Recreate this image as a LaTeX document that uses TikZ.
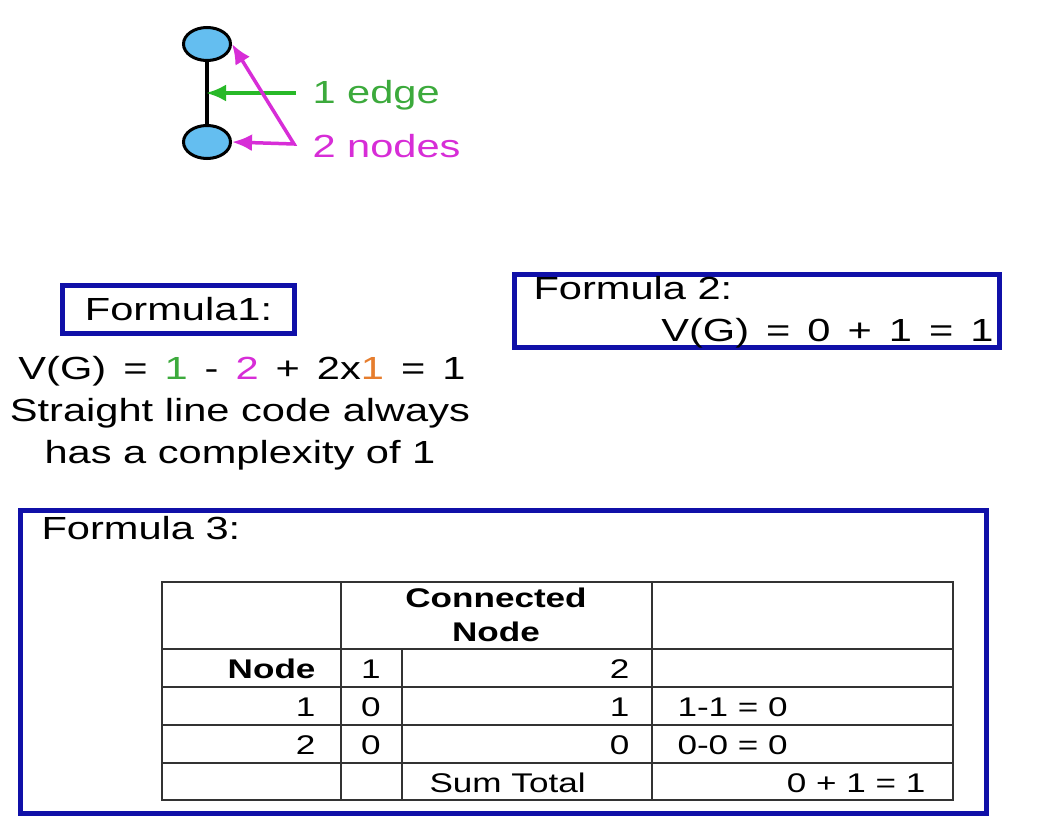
\documentclass[tikz,border=0pt]{standalone}
\usepackage{fontspec}
\setmainfont{Liberation Sans}[FakeStretch=1.3]
\newfontfamily\tabfont{Liberation Sans}[FakeStretch=1.3]
\usetikzlibrary{arrows.meta}
\usetikzlibrary{shapes.geometric}
\definecolor{boxblue}{RGB}{16,16,168}
\definecolor{nodeblue}{RGB}{100,190,240}
\definecolor{edgegreen}{RGB}{40,185,40}
\definecolor{txtgreen}{RGB}{60,170,60}
\definecolor{mymagenta}{RGB}{215,45,215}
\definecolor{myorange}{RGB}{230,125,45}
\newcommand{\mainsz}{\fontsize{32}{43}\selectfont}
\newcommand{\tabsz}{\fontsize{27}{34}\tabfont}
\newcommand{\widesp}{\spaceskip=17pt plus 2pt}

\begin{document}
\begin{tikzpicture}[x=1pt,y=-1pt,
  vertex/.style={ellipse,draw=black,line width=3pt,fill=nodeblue,minimum width=47pt,minimum height=33pt,inner sep=0pt},
  fbox/.style={draw=boxblue,line width=5pt,inner sep=0pt},
  tabline/.style={draw=black!80,line width=1.6pt},
  bigtip/.tip={Latex[length=20pt,width=17pt]},
  every node/.style={font=\mainsz}]

\useasboundingbox[fill=white] (0,0) rectangle (1060,837);

% the graph
\node[vertex] (v1) at (207,44) {};
\node[vertex] (v2) at (207,142) {};
\draw[line width=4pt] (v1) -- (v2);

\coordinate (emid) at (206,93);
\coordinate (gstart) at (296,93);
\draw[-bigtip,line width=3.5pt,edgegreen] (gstart) -- (emid);
\node[anchor=base west,text=txtgreen] (elabel) at (309,104) {1 edge};

\coordinate (mcorner) at (294,144);
\draw[bigtip-bigtip,line width=3.5pt,mymagenta,line join=miter] (v1.east) -- (mcorner) -- (v2.east);
\node[anchor=base west,text=mymagenta] (nlabel) at (309,158) {2 nodes};

% formula 1
\node[fbox,minimum width=232pt,minimum height=48pt] (f1) at (178.5,309.5) {Formula1:};
\node[anchor=base] (f1eq) at (242,379) {\widesp V(G) = \textcolor{txtgreen}{1} - \textcolor{mymagenta}{2} + 2x\textcolor{myorange}{1} = 1};
\node[anchor=base] (f1note) at (240,421) {Straight line code always};
\node[anchor=base] (f1note2) at (240,463) {has a complexity of 1};

% formula 2
\node[fbox,minimum width=485pt,minimum height=73pt] (f2) at (757,311) {};
\node[anchor=base west] (f2title) at (530,299) {Formula 2:};
\node[anchor=base east] (f2eq) at (997,341) {\widesp V(G) = 0 + 1 = 1};

% formula 3
\node[fbox,minimum width=966pt,minimum height=303pt] (f3) at (503,661.5) {};
\node[anchor=base west] (f3title) at (38,539) {Formula 3:};

\draw[tabline] (162,582) rectangle (953,800);
\foreach \y in {649,687,725,763}
  \draw[tabline] (162,\y) -- (953,\y);
\draw[tabline] (341,582) -- (341,800);
\draw[tabline] (652,582) -- (652,800);
\draw[tabline] (402,649) -- (402,800);

\node[font=\tabsz\bfseries,align=center] (thead) at (496,615) {Connected\\Node};
\node[font=\tabsz\bfseries,anchor=base east] (tnode) at (319,678) {Node};
\node[font=\tabsz,anchor=base] (tc1) at (371,678) {1};
\node[font=\tabsz,anchor=base east] (tc2) at (633,678) {2};

\node[font=\tabsz,anchor=base east] (tr1) at (319,716) {1};
\node[font=\tabsz,anchor=base] (tr1a) at (371,716) {0};
\node[font=\tabsz,anchor=base east] (tr1b) at (633,716) {1};
\node[font=\tabsz,anchor=base west] (tr1c) at (674,716) {1-1 = 0};

\node[font=\tabsz,anchor=base east] (tr2) at (319,754) {2};
\node[font=\tabsz,anchor=base] (tr2a) at (371,754) {0};
\node[font=\tabsz,anchor=base east] (tr2b) at (633,754) {0};
\node[font=\tabsz,anchor=base west] (tr2c) at (674,754) {0-0 = 0};

\node[font=\tabsz,anchor=base west] (tsum) at (426,792) {Sum Total};
\node[font=\tabsz,anchor=base east] (tsumv) at (929,792) {0 + 1 = 1};

\end{tikzpicture}
\end{document}
